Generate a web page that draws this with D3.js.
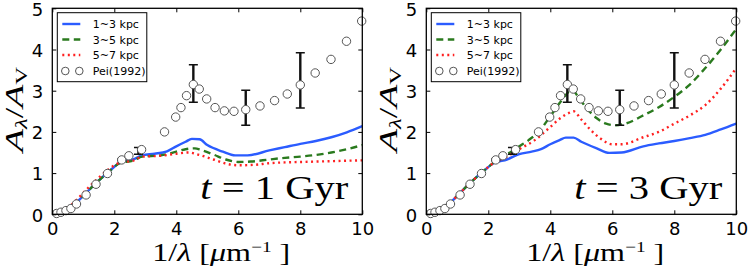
<!DOCTYPE html>
<html><head><meta charset="utf-8">
<script src="https://cdn.jsdelivr.net/npm/d3@7"></script>
<style>body{margin:0;background:#fff}svg{display:block}</style></head>
<body><svg id="c" width="748" height="266"></svg>
<script>
const xTicks = [0, 2, 4, 6, 8, 10];
const yTicks = [0, 1, 2, 3, 4, 5];
const seriesNames = ["1~3 kpc", "3~5 kpc", "5~7 kpc"];
const peiName = "Pei(1992)";
const panelTitles = ["1", "3"];

const peiX = [0.14,0.28,0.44,0.60,0.78,1.09,1.41,1.78,2.24,2.47,2.88,3.62,3.98,4.15,4.33,4.55,4.74,4.98,5.25,5.55,5.86,6.24,6.70,7.17,7.58,8.00,8.48,8.99,9.49,9.98];
const peiY = [0.02,0.05,0.09,0.14,0.25,0.47,0.73,0.99,1.32,1.42,1.57,2.00,2.36,2.59,2.88,3.15,3.04,2.80,2.59,2.51,2.50,2.54,2.63,2.76,2.92,3.14,3.43,3.76,4.20,4.69];
const errX  = [2.24, 2.78, 4.55, 6.24, 8.00];
const errLo = [1.30, 1.46, 2.72, 2.16, 2.58];
const errHi = [1.34, 1.62, 3.63, 3.01, 3.92];

// t = 1 Gyr
const t1Blue  = [[0,0],[0.5,0.12],[0.8,0.3],[1.0,0.45],[1.4,0.75],[1.8,1.02],[2.2,1.26],[2.6,1.33],[2.9,1.43],[3.3,1.47],[3.7,1.53],[4.0,1.65],[4.3,1.76],[4.5,1.83],[4.75,1.82],[5.0,1.68],[5.5,1.52],[5.9,1.43],[6.3,1.43],[7.0,1.55],[7.5,1.63],[8.0,1.71],[8.5,1.78],[9.0,1.87],[9.5,1.99],[10,2.14]];
const t1Green = [[0,0],[0.5,0.12],[0.8,0.3],[1.0,0.45],[1.4,0.75],[1.8,1.02],[2.2,1.25],[2.6,1.3],[2.9,1.4],[3.5,1.43],[4.0,1.52],[4.3,1.58],[4.6,1.6],[4.8,1.56],[5.2,1.45],[5.6,1.33],[6.0,1.27],[6.4,1.28],[7.0,1.33],[7.5,1.37],[8.0,1.4],[8.5,1.44],[9.0,1.5],[9.5,1.58],[10,1.68]];
const t1Red   = [[0,0],[0.5,0.16],[0.8,0.36],[1.0,0.52],[1.4,0.82],[1.8,1.08],[2.2,1.26],[2.6,1.3],[2.9,1.4],[3.5,1.42],[4.0,1.47],[4.4,1.5],[4.7,1.45],[5.2,1.33],[5.6,1.23],[6.0,1.19],[6.5,1.2],[7.0,1.24],[7.5,1.26],[8.0,1.27],[9.0,1.29],[10,1.31]];
// t = 3 Gyr
const t3Blue  = [[0,0],[0.5,0.12],[0.8,0.3],[1.0,0.45],[1.4,0.75],[1.8,1.02],[2.2,1.25],[2.6,1.33],[3.0,1.46],[3.4,1.52],[3.7,1.58],[4.0,1.7],[4.3,1.8],[4.5,1.86],[4.75,1.86],[5.0,1.76],[5.5,1.6],[5.9,1.49],[6.3,1.5],[7.0,1.65],[7.5,1.72],[8.0,1.78],[8.5,1.85],[9.0,1.93],[9.5,2.06],[10,2.2]];
const t3Green = [[0,0],[0.5,0.12],[0.8,0.3],[1.0,0.45],[1.4,0.75],[1.8,1.02],[2.2,1.27],[2.6,1.45],[3.0,1.65],[3.3,1.8],[3.6,1.98],[4.0,2.38],[4.3,2.7],[4.5,2.9],[4.7,3.02],[4.9,2.85],[5.2,2.55],[5.5,2.33],[5.8,2.2],[6.1,2.16],[6.5,2.22],[7.0,2.4],[7.5,2.6],[8.0,2.85],[8.5,3.15],[9.0,3.55],[9.5,4.0],[10,4.5]];
const t3Red   = [[0,0],[0.5,0.12],[0.8,0.3],[1.0,0.45],[1.4,0.75],[1.8,1.02],[2.2,1.26],[2.6,1.4],[3.0,1.58],[3.5,1.8],[4.0,2.12],[4.3,2.32],[4.6,2.46],[4.75,2.5],[5.0,2.3],[5.3,2.05],[5.6,1.85],[6.0,1.7],[6.3,1.7],[7.0,1.87],[7.5,2.0],[8.0,2.2],[8.5,2.4],[9.0,2.65],[9.5,3.05],[10,3.55]];

const panelSeries = [[t1Blue, t1Green, t1Red], [t3Blue, t3Green, t3Red]];
const colors = ["#2b5cff", "#2a7a1e", "#ff2020"];
const dashes = [null, "7,4.5", "2,3.5"];

const svg = d3.select("#c");
const panelX = [52.3, 426.3];
const W = 310, TOP = 8.3, BOT = 214.3;
const mathFont = "'Liberation Serif', 'DejaVu Serif', serif";
const sansFont = "'DejaVu Sans', sans-serif";

panelX.forEach((px, pi) => {
  const x = d3.scaleLinear().domain([0, 10]).range([px, px + W]);
  const y = d3.scaleLinear().domain([0, 5]).range([BOT, TOP]);
  const g = svg.append("g");
  const clipId = "clip" + pi;
  svg.append("clipPath").attr("id", clipId).append("rect")
    .attr("x", px).attr("y", TOP).attr("width", W).attr("height", BOT - TOP);

  const line = d3.line().x(d => x(d[0])).y(d => y(d[1])).curve(d3.curveMonotoneX);
  const cg = g.append("g").attr("clip-path", `url(#${clipId})`);
  panelSeries[pi].forEach((s, si) => {
    cg.append("path").attr("d", line(s)).attr("fill", "none")
      .attr("stroke", colors[si]).attr("stroke-width", 2.4)
      .attr("stroke-dasharray", dashes[si]);
  });
  // error bars
  errX.forEach((ex, i) => {
    const xx = x(ex);
    cg.append("line").attr("x1", xx).attr("x2", xx).attr("y1", y(errLo[i])).attr("y2", y(errHi[i]))
      .attr("stroke", "#111").attr("stroke-width", 2.4);
    [errLo[i], errHi[i]].forEach(v => cg.append("line").attr("x1", xx - 4.5).attr("x2", xx + 4.5)
      .attr("y1", y(v)).attr("y2", y(v)).attr("stroke", "#111").attr("stroke-width", 1.5));
  });
  // Pei points
  peiX.forEach((v, i) => {
    g.append("circle").attr("cx", x(v)).attr("cy", y(peiY[i])).attr("r", 4.2)
      .attr("fill", "#fff").attr("stroke", "#555").attr("stroke-width", 1);
  });

  // frame
  g.append("rect").attr("x", px).attr("y", TOP).attr("width", W).attr("height", BOT - TOP)
    .attr("fill", "none").attr("stroke", "#000").attr("stroke-width", 1.3);

  // axes via d3
  const ax = g.append("g").attr("transform", `translate(0,${BOT})`)
    .call(d3.axisBottom(x).tickValues(xTicks).tickSizeInner(-4).tickSizeOuter(0).tickPadding(8).tickFormat(d3.format("d")));
  const axT = g.append("g").attr("transform", `translate(0,${TOP})`)
    .call(d3.axisTop(x).tickValues(xTicks).tickSizeInner(-4).tickSizeOuter(0).tickFormat(""));
  const ay = g.append("g").attr("transform", `translate(${px},0)`)
    .call(d3.axisLeft(y).tickValues(yTicks).tickSizeInner(-4).tickSizeOuter(0).tickPadding(9).tickFormat(d3.format("d")));
  const ayR = g.append("g").attr("transform", `translate(${px + W},0)`)
    .call(d3.axisRight(y).tickValues(yTicks).tickSizeInner(-4).tickSizeOuter(0).tickFormat(""));
  [ax, axT, ay, ayR].forEach(a => {
    a.select(".domain").remove();
    a.selectAll(".tick line").attr("stroke", "#000").attr("stroke-width", 1);
    a.selectAll("text").attr("font-family", sansFont).attr("font-size", 18).attr("fill", "#000");
  });
  ay.selectAll("text").attr("dy", "0.38em");

  // legend
  const lx = px + 5, ly = 12.7;
  const lg = g.append("g");
  lg.append("rect").attr("x", lx).attr("y", ly).attr("width", 89.5).attr("height", 69)
    .attr("fill", "#fff").attr("stroke", "#000").attr("stroke-width", 1);
  const rowY = [24, 39.5, 55, 71];
  seriesNames.forEach((n, si) => {
    lg.append("line").attr("x1", lx + 5).attr("x2", lx + 23).attr("y1", rowY[si]).attr("y2", rowY[si])
      .attr("stroke", colors[si]).attr("stroke-width", 2.4).attr("stroke-dasharray", dashes[si]);
    lg.append("text").attr("x", lx + 35.5).attr("y", rowY[si] + 4).text(n)
      .attr("font-family", sansFont).attr("font-size", 11);
  });
  [lx + 8, lx + 22].forEach(cx => lg.append("circle").attr("cx", cx).attr("cy", rowY[3]).attr("r", 3.8)
    .attr("fill", "#fff").attr("stroke", "#555").attr("stroke-width", 1));
  lg.append("text").attr("x", lx + 35.5).attr("y", rowY[3] + 4).text(peiName)
    .attr("font-family", sansFont).attr("font-size", 11);

  // x label
  const xl = g.append("text").attr("x", px + 100).attr("y", 261).attr("font-family", mathFont)
    .attr("font-size", 25).attr("textLength", 138).attr("lengthAdjust", "spacingAndGlyphs");
  xl.append("tspan").text("1/");
  xl.append("tspan").attr("font-style", "italic").text("λ");
  xl.append("tspan").text(" [");
  xl.append("tspan").attr("font-style", "italic").text("μ");
  xl.append("tspan").text("m");
  xl.append("tspan").attr("font-size", 15).attr("dy", -9).text("−1");
  xl.append("tspan").attr("dy", 9).text(" ]");

  // y label
  const yl = g.append("text").attr("transform", `translate(${px - 29},152) rotate(-90)`)
    .attr("font-family", mathFont).attr("font-size", 26).attr("textLength", 85).attr("lengthAdjust", "spacingAndGlyphs");
  yl.append("tspan").attr("font-style", "italic").text("A");
  yl.append("tspan").attr("font-style", "italic").attr("font-size", 17).attr("dy", 4).text("λ");
  yl.append("tspan").attr("dy", -4).text("/");
  yl.append("tspan").attr("font-style", "italic").text("A");
  yl.append("tspan").attr("font-size", 17).attr("dy", 4).text("V");

  // title
  const tt = g.append("text").attr("x", px + 148).attr("y", 199).attr("font-family", mathFont)
    .attr("font-size", 33).attr("textLength", 148).attr("lengthAdjust", "spacingAndGlyphs");
  tt.append("tspan").attr("font-style", "italic").text("t");
  tt.append("tspan").text(" = " + panelTitles[pi] + " Gyr");
});
</script></body></html>
